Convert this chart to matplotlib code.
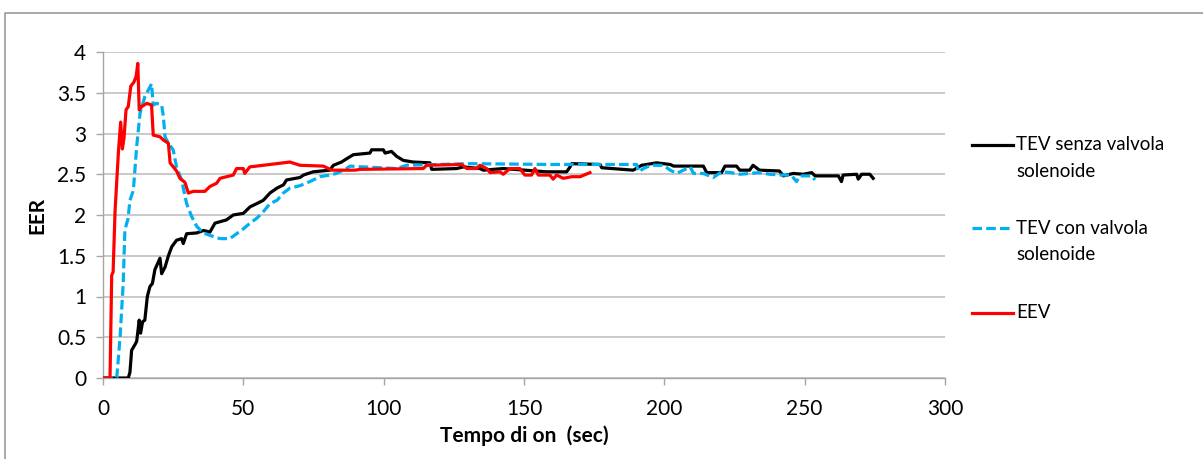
import matplotlib.pyplot as plt
from matplotlib.lines import Line2D
from matplotlib.ticker import FuncFormatter, MultipleLocator

plt.rcParams['font.family'] = ['Lato', 'DejaVu Sans']

# EEV
eev_t = [0, 2.5, 3.1, 3.6, 4.3, 5.5, 6.3, 6.9, 7.5, 8.2, 9.0, 9.9, 11.0, 11.8, 12.4,
         12.9, 13.8, 15.6, 17.3, 17.9, 20.3, 21.5, 23.3, 23.9, 26.2, 27.4, 29.2, 30.4,
         32.2, 36.3, 38.1, 40.5, 41.7, 46.4, 47.6, 50.0, 50.5, 52.3, 57.1, 66.6, 70.2,
         78.5, 81.5, 89.8, 91.6, 114.1, 115.3, 127.8, 129.6, 133.1, 134.3, 136.7, 137.9,
         141.4, 142.6, 145.0, 148.5, 150.3, 152.7, 153.9, 155.1, 159.2, 160.4, 161.6,
         164.0, 167.0, 170.0, 173.5]
eev_y = [0, 0, 1.26, 1.3, 2.05, 2.78, 3.14, 2.81, 2.95, 3.29, 3.33, 3.58, 3.63, 3.7, 3.86,
         3.29, 3.33, 3.37, 3.35, 2.98, 2.96, 2.92, 2.88, 2.64, 2.54, 2.45, 2.4, 2.27,
         2.29, 2.29, 2.35, 2.39, 2.45, 2.49, 2.57, 2.57, 2.51, 2.59, 2.61, 2.65, 2.61,
         2.6, 2.55, 2.55, 2.56, 2.57, 2.61, 2.62, 2.57, 2.57, 2.61, 2.57, 2.52,
         2.53, 2.5, 2.57, 2.57, 2.49, 2.49, 2.57, 2.49, 2.49, 2.44, 2.49,
         2.45, 2.47, 2.47, 2.52]

# TEV con valvola solenoide
tev_con_t = [0, 4.9, 6.1, 7.2, 7.8, 8.9, 9.6, 10.8, 12.0, 13.2, 14.9, 16.1, 17.3, 17.9,
             19.1, 20.9, 21.5, 22.1, 23.3, 25.0, 26.2, 28.0, 29.8, 31.6, 33.4, 35.8,
             38.1, 41.7, 45.2, 47.6, 50.0, 52.4, 54.8, 57.1, 59.5, 62.0, 64.3, 66.6,
             70.2, 73.7, 77.3, 80.8, 83.2, 86.8, 88.0, 92.7, 104.6, 108.2, 130.7, 160.0,
             190.1, 190.8, 192.6, 195.0, 199.7, 202.1, 204.4, 206.8, 209.2, 210.4, 213.9,
             217.4, 220.4, 223.9, 226.9, 230.4, 234.0, 237.5, 241.6, 245.2, 247.1, 248.3,
             252.5, 253.7]
tev_con_y = [0, 0, 0.51, 1.16, 1.82, 1.95, 2.18, 2.3, 2.84, 3.25, 3.45, 3.53, 3.61, 3.35,
             3.37, 3.35, 3.21, 2.96, 2.88, 2.8, 2.59, 2.43, 2.14, 1.98, 1.86, 1.78,
             1.75, 1.71, 1.71, 1.77, 1.83, 1.9, 1.96, 2.04, 2.14, 2.18, 2.27, 2.33,
             2.36, 2.41, 2.47, 2.49, 2.51, 2.57, 2.6, 2.59, 2.57, 2.61, 2.63, 2.62,
             2.62, 2.53, 2.57, 2.61, 2.61, 2.55, 2.51, 2.55, 2.59, 2.51, 2.51,
             2.46, 2.53, 2.52, 2.5, 2.51, 2.52, 2.5, 2.49, 2.49, 2.41, 2.48,
             2.48, 2.43]

# TEV senza valvola solenoide
tev_senza_t = [0, 9.0, 9.6, 10.2, 11.4, 12.0, 12.9, 13.4, 14.1, 14.9, 15.8, 16.7, 17.6,
               18.5, 20.3, 20.9, 22.1, 23.3, 24.5, 26.2, 28.0, 28.6, 29.8, 33.4, 35.8,
               38.1, 39.9, 44.0, 46.4, 50.0, 52.4, 54.8, 57.1, 59.5, 62.0, 64.3, 65.4,
               70.2, 71.4, 74.9, 80.8, 82.1, 85.0, 86.8, 89.2, 95.1, 95.7, 99.9, 100.5,
               102.8, 104.6, 107.0, 110.5, 116.5, 117.1, 126.0, 128.4, 134.3, 135.5,
               142.6, 158.1, 165.2, 166.4, 167.0, 177.1, 177.7, 188.9, 191.9, 197.2,
               202.1, 203.3, 213.9, 215.1, 220.4, 221.6, 225.7, 226.9, 230.4, 231.6,
               233.9, 241.0, 242.4, 245.9, 249.5, 252.5, 253.7, 262.0, 263.1, 263.7,
               268.5, 269.1, 270.3, 273.2, 274.4]
tev_senza_y = [0, 0, 0.07, 0.34, 0.41, 0.45, 0.71, 0.55, 0.69, 0.71, 1.0, 1.12, 1.16,
               1.33, 1.47, 1.28, 1.36, 1.5, 1.61, 1.69, 1.71, 1.65, 1.77, 1.78, 1.81,
               1.79, 1.9, 1.94, 2.0, 2.02, 2.1, 2.14, 2.18, 2.27, 2.33, 2.37, 2.43,
               2.46, 2.49, 2.53, 2.55, 2.61, 2.65, 2.69, 2.74, 2.76, 2.8, 2.8, 2.76,
               2.78, 2.72, 2.67, 2.65, 2.64, 2.56, 2.57, 2.59, 2.57, 2.55,
               2.57, 2.53, 2.53, 2.59, 2.63, 2.62, 2.58, 2.55, 2.61, 2.64,
               2.62, 2.6, 2.6, 2.52, 2.52, 2.6, 2.6, 2.55, 2.55, 2.61,
               2.55, 2.54, 2.48, 2.51, 2.5, 2.52, 2.48, 2.48, 2.41, 2.49,
               2.5, 2.44, 2.5, 2.5, 2.45]

fig = plt.figure(figsize=(12.03, 4.59), dpi=100)
ax = fig.add_axes([103 / 1203, 1 - 378 / 459, (945 - 103) / 1203, (378 - 52) / 459])

lw = 2.3
l1, = ax.plot(tev_senza_t, tev_senza_y, color='black', lw=lw,
              solid_joinstyle='round', zorder=3)
l2, = ax.plot(tev_con_t, tev_con_y, color='#00B0F0', lw=lw, dashes=(3, 1.3),
              dash_capstyle='butt', zorder=3)
l3, = ax.plot(eev_t, eev_y, color='#FF0000', lw=lw,
              solid_joinstyle='round', zorder=4)

ax.set_xlim(0, 300)
ax.set_ylim(0, 4)
ax.xaxis.set_major_locator(MultipleLocator(50))
ax.yaxis.set_major_locator(MultipleLocator(0.5))
ax.yaxis.set_major_formatter(FuncFormatter(lambda v, p: f'{v:g}'))
ax.grid(axis='y', color='#C0C0C0', lw=1.2)
ax.set_axisbelow(True)
for s in ('top', 'right'):
    ax.spines[s].set_visible(False)
for s in ('left', 'bottom'):
    ax.spines[s].set_color('#A6A6A6')
    ax.spines[s].set_linewidth(1.0)
ax.tick_params(colors='#A6A6A6', labelcolor='black', length=5, width=1.0,
               labelsize=15)
ax.tick_params(axis='x', pad=10)
ax.tick_params(axis='y', pad=7)

ax.set_xlabel('Tempo di on  (sec)', fontsize=15, fontweight='bold', labelpad=5)
ax.set_ylabel('EER', fontsize=15, fontweight='bold', labelpad=7)

# legend drawn by hand so the key line sits on the first text row
entries = [(l1, ['TEV senza valvola', 'solenoide'], 145),
           (l2, ['TEV con valvola', 'solenoide'], 228),
           (l3, ['EEV'], 313)]
for line, rows, ypx in entries:
    y = 1 - ypx / 459
    key = Line2D([972 / 1203, 1013 / 1203], [y, y], transform=fig.transFigure,
                 color=line.get_color(), lw=lw)
    if line is l2:
        key.set_dashes((3, 1.3))
    fig.add_artist(key)
    for i, r in enumerate(rows):
        fig.text(1016 / 1203, 1 - (ypx + 27 * i) / 459, r, fontsize=13.5,
                 va='center', ha='left')

# chart frame border (top and left edges)
fig.add_artist(Line2D([5 / 1203, 5 / 1203, 1.0], [0.0, 1 - 13 / 459, 1 - 13 / 459],
                      transform=fig.transFigure, color='#999999', lw=1.2))

fig.savefig('out.png', dpi=100)
